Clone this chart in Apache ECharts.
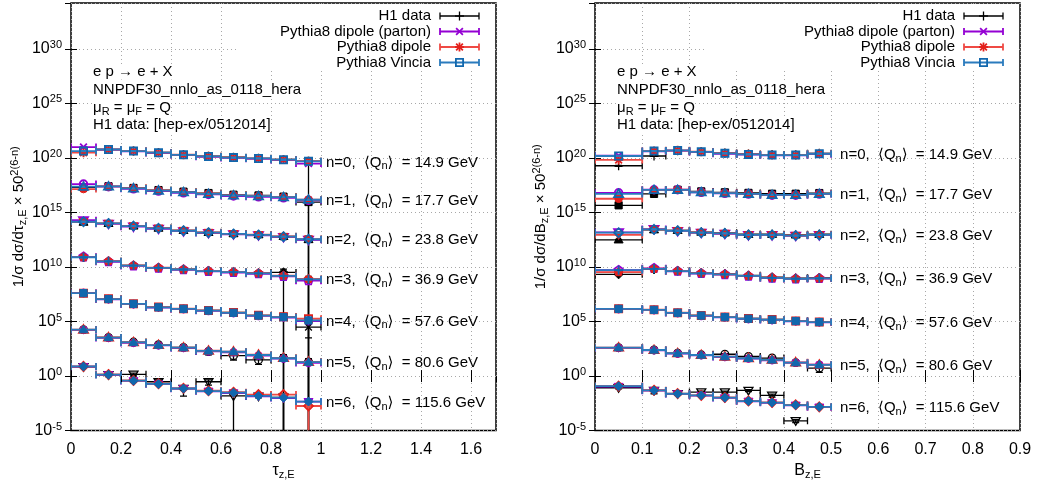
<!DOCTYPE html>
<html><head><meta charset="utf-8">
<script src="https://cdn.jsdelivr.net/npm/echarts@6/dist/echarts.min.js"></script>
<style>html,body{margin:0;padding:0;background:#fff}#c{width:1039px;height:485px}</style>
</head><body><div id="c"></div>
<script>
// ---------------- DATA ----------------
const seriesNames = ['H1 data', 'Pythia8 dipole (parton)', 'Pythia8 dipole', 'Pythia8 Vincia'];
const qMean = [14.9, 17.7, 23.8, 36.9, 57.6, 80.6, 115.6];
const yTickExponents = [-5, 0, 5, 10, 15, 20, 25, 30];
const tauEdges = [0, 0.1, 0.2, 0.3, 0.4, 0.5, 0.6, 0.7, 0.8, 0.9, 1.0];
const bzEdges = [0, 0.1, 0.15, 0.2, 0.25, 0.3, 0.35, 0.4, 0.45, 0.5];

// tau_z,E panel (rows: n = 0..6), values already scaled by 50^(2(6-n))
const tauH1 = [
  [3.5e20, 6.0e20, 4.4e20, 3.2e20, 2.0e20, 1.45e20, 1.15e20, 9.2e19, 7.2e19, 5.0e19],
  [2.0e17, 2.5e17, 1.75e17, 1.12e17, 8.0e16, 6.0e16, 4.2e16, 3.6e16, 2.8e16, 9.0e15],
  [1.3e14, 1.0e14, 5.8e13, 3.7e13, 2.3e13, 1.5e13, 1.15e13, 9.2e12, 6.5e12, 3.3e12],
  [7.5e10, 3.4e10, 1.4e10, 8.6e9, 6.2e9, 4.6e9, 3.6e9, 2.8e9, 3.2e9, 7.0e8],
  [4.0e7, 1.15e7, 4.2e6, 2.1e6, 1.5e6, 1.05e6, 6.8e5, 3.6e5, 2.8e5, 3.1e4],
  [1.8e4, 3.5e3, 1.3e3, 750, 420, 180, 74, 30, 45, 20],
  [7.0, 1.3, 1.45, 0.3, 0.072, 0.3, 0.015, 0.014, 0.011, null]
];
const tauH1Err = [
  [0.1, 0.1, 0.1, 0.1, 0.1, 0.1, 0.1, 0.1, 0.15, 1],
  [0.1, 0.1, 0.1, 0.1, 0.1, 0.1, 0.1, 0.15, 0.2, 1],
  [0.1, 0.1, 0.1, 0.1, 0.1, 0.1, 0.15, 0.2, 0.5, 1],
  [0.1, 0.1, 0.1, 0.1, 0.1, 0.15, 0.15, 0.2, 1, 1],
  [0.1, 0.1, 0.1, 0.1, 0.15, 0.15, 0.2, 0.4, 1, 0.9],
  [0.1, 0.1, 0.1, 0.15, 0.2, 0.5, 0.6, 0.6, 1, 1],
  [0.15, 0.3, 0.3, 0.5, 0.8, 0.5, 1, 0.3, 1, 1]
];
const tauParton = [
  [9.8e20, 5.6e20, 4.0e20, 2.8e20, 1.8e20, 1.25e20, 1.0e20, 8.3e19, 6.3e19, 3.0e19],
  [4.0e17, 2.3e17, 1.45e17, 9.0e16, 6.3e16, 4.5e16, 3.2e16, 2.7e16, 2.2e16, 1.3e16],
  [1.95e14, 9.0e13, 5.0e13, 3.2e13, 1.9e13, 1.3e13, 1.0e13, 8.0e12, 5.5e12, 3.1e12],
  [8.5e10, 3.0e10, 1.25e10, 7.8e9, 5.5e9, 3.9e9, 3.1e9, 2.4e9, 1.35e9, 5.5e8],
  [4.1e7, 1.1e7, 3.9e6, 1.9e6, 1.4e6, 9.5e5, 6.0e5, 3.3e5, 2.3e5, 1.1e5],
  [1.7e4, 3.1e3, 1.1e3, 640, 370, 180, 150, 75, 40, 16],
  [7.3, 1.3, 0.36, 0.18, 0.07, 0.04, 0.028, 0.014, 0.0095, 0.0045]
];
const tauDipole = [
  [3.0e20, 5.9e20, 4.3e20, 3.0e20, 1.95e20, 1.4e20, 1.1e20, 9.0e19, 7.0e19, 5.0e19],
  [1.4e17, 2.4e17, 1.7e17, 1.05e17, 7.3e16, 5.2e16, 3.8e16, 3.2e16, 2.6e16, 1.5e16],
  [1.35e14, 9.8e13, 5.7e13, 3.6e13, 2.2e13, 1.45e13, 1.1e13, 9.0e12, 6.2e12, 3.6e12],
  [8.0e10, 3.4e10, 1.4e10, 8.5e9, 6.0e9, 4.3e9, 3.5e9, 2.7e9, 1.6e9, 8.0e8],
  [4.0e7, 1.2e7, 4.2e6, 2.1e6, 1.5e6, 1.05e6, 6.6e5, 3.7e5, 2.7e5, 1.8e5],
  [1.8e4, 3.5e3, 1.25e3, 700, 410, 210, 175, 90, 45, 20],
  [7.7, 1.4, 0.39, 0.2, 0.075, 0.045, 0.033, 0.02, 0.02, 0.0018]
];
const tauVincia = [
  [4.2e20, 5.9e20, 4.2e20, 3.0e20, 1.9e20, 1.35e20, 1.07e20, 8.9e19, 6.8e19, 4.8e19],
  [2.3e17, 2.4e17, 1.6e17, 1.0e17, 7.1e16, 5.0e16, 3.6e16, 3.1e16, 2.5e16, 1.45e16],
  [1.4e14, 9.8e13, 5.6e13, 3.5e13, 2.1e13, 1.4e13, 1.07e13, 8.7e12, 6.0e12, 3.5e12],
  [7.8e10, 3.3e10, 1.35e10, 8.3e9, 5.9e9, 4.2e9, 3.4e9, 2.6e9, 1.5e9, 7.4e8],
  [4.0e7, 1.15e7, 4.1e6, 2.0e6, 1.45e6, 1.0e6, 6.3e5, 3.5e5, 2.5e5, 1.26e5],
  [1.8e4, 3.4e3, 1.2e3, 690, 400, 200, 170, 85, 43, 19],
  [7.6, 1.35, 0.38, 0.19, 0.072, 0.042, 0.030, 0.015, 0.0105, 0.0046]
];
// [n, bin, relative error] for model points with visible error bars
const tauModelErrOverrides = { dipole: [[6, 9, 1]], vincia: [[6, 9, 0.3], [6, 8, 0.2]], parton: [] };

// B_z,E panel
const bzH1 = [
  [1.9e19, 1.5e20, 4.6e20, 3.8e20, 2.8e20, 2.3e20, 2.0e20, 1.9e20, 2.6e20],
  [4.5e15, 5.0e16, 1.2e17, 8.5e16, 7.0e16, 6.2e16, 5.2e16, 5.2e16, 6.0e16],
  [3.1e12, 2.6e13, 2.3e13, 1.6e13, 1.35e13, 1.0e13, 1.0e13, 8.8e12, 1.0e13],
  [2.1e9, 6.0e9, 4.5e9, 2.9e9, 2.4e9, 1.7e9, 1.15e9, 9.5e8, 1.05e9],
  [1.4e6, 1.15e6, 6.6e5, 3.7e5, 2.7e5, 1.9e5, 1.55e5, 1.2e5, 9.0e4],
  [400, 250, 125, 88, 100, 62, 45, 17, 5.4],
  [0.085, 0.048, 0.024, 0.034, 0.034, 0.048, 0.017, 7.9e-5, null]
];
const bzH1Err = [
  [0.1, 0.1, 0.1, 0.1, 0.1, 0.1, 0.1, 0.1, 0.1],
  [0.1, 0.1, 0.1, 0.1, 0.1, 0.1, 0.1, 0.1, 0.1],
  [0.1, 0.1, 0.1, 0.1, 0.1, 0.1, 0.1, 0.1, 0.1],
  [0.1, 0.1, 0.1, 0.1, 0.1, 0.1, 0.1, 0.1, 0.1],
  [0.1, 0.1, 0.1, 0.1, 0.1, 0.1, 0.15, 0.15, 0.15],
  [0.1, 0.1, 0.1, 0.1, 0.15, 0.15, 0.2, 0.3, 0.6],
  [0.2, 0.5, 0.3, 0.2, 0.2, 0.2, 0.3, 0.3, 0.3]
];
const bzParton = [
  [1.6e20, 4.0e20, 4.6e20, 3.4e20, 2.4e20, 2.0e20, 1.7e20, 1.7e20, 2.2e20],
  [6.3e16, 1.2e17, 1.2e17, 7.0e16, 5.6e16, 4.8e16, 3.8e16, 3.8e16, 4.8e16],
  [1.5e13, 3.0e13, 2.0e13, 1.35e13, 1.1e13, 8.3e12, 8.3e12, 7.2e12, 8.3e12],
  [5.0e9, 7.5e9, 4.0e9, 2.5e9, 2.0e9, 1.45e9, 9.5e8, 8.0e8, 8.7e8],
  [1.4e6, 1.15e6, 6.0e5, 3.3e5, 2.4e5, 1.7e5, 1.4e5, 1.05e5, 8.5e4],
  [380, 230, 115, 80, 55, 40, 28, 17, 11],
  [0.11, 0.046, 0.023, 0.016, 0.0098, 0.0048, 0.0035, 0.0021, 0.0014]
];
const bzDipole = [
  [6.5e19, 4.3e20, 4.9e20, 3.7e20, 2.7e20, 2.2e20, 1.85e20, 1.85e20, 2.5e20],
  [1.8e16, 1.15e17, 1.2e17, 7.2e16, 5.9e16, 5.1e16, 4.1e16, 4.1e16, 5.1e16],
  [8.7e12, 2.8e13, 2.15e13, 1.45e13, 1.2e13, 8.8e12, 8.8e12, 7.7e12, 8.8e12],
  [3.4e9, 6.9e9, 4.3e9, 2.7e9, 2.15e9, 1.55e9, 1.05e9, 8.5e8, 9.2e8],
  [1.45e6, 1.2e6, 6.4e5, 3.6e5, 2.6e5, 1.85e5, 1.5e5, 1.12e5, 9.0e4],
  [410, 250, 125, 86, 61, 44, 31, 18, 11],
  [0.12, 0.05, 0.025, 0.017, 0.011, 0.0053, 0.0038, 0.0023, 0.0015]
];
const bzVincia = [
  [1.5e20, 4.2e20, 4.8e20, 3.6e20, 2.6e20, 2.1e20, 1.8e20, 1.8e20, 2.4e20],
  [5.0e16, 1.15e17, 1.15e17, 7.1e16, 5.8e16, 5.0e16, 4.0e16, 4.0e16, 5.0e16],
  [1.4e13, 2.8e13, 2.1e13, 1.4e13, 1.2e13, 8.7e12, 8.7e12, 7.6e12, 8.7e12],
  [5.1e9, 6.8e9, 4.2e9, 2.6e9, 2.1e9, 1.5e9, 1.0e9, 8.3e8, 9.1e8],
  [1.45e6, 1.17e6, 6.3e5, 3.5e5, 2.5e5, 1.8e5, 1.45e5, 1.1e5, 8.9e4],
  [400, 245, 123, 85, 60, 43, 30, 17, 10.7],
  [0.117, 0.048, 0.024, 0.017, 0.0105, 0.0051, 0.0037, 0.0022, 0.0015]
];

// ---------------- LAYOUT / STYLE ----------------
const FONT = '"Liberation Sans", Arial, Helvetica, "DejaVu Sans", sans-serif';
const Y_MIN = -5, Y_MAX = 34.2;      // log10 range of the y axes
const MODEL_ERR = 0.05;
const STY = [
  { color: '#000000', mcolor: '#000000', lw: 1.3, start: 1 },
  { color: '#9400d3', mcolor: '#9400d3', lw: 1.8, start: 2 },
  { color: '#ef4a44', mcolor: '#e3201b', lw: 1.8, start: 3 },
  { color: '#2a7bbd', mcolor: '#1167ad', lw: 1.8, start: 4 }
];
const PT = ['plus', 'cross', 'star', 'sq', 'sqF', 'circ', 'circF', 'tri', 'triF', 'itri', 'itriF', 'dia', 'diaF', 'pent', 'pentF'];
const ptType = (start, n) => PT[(start - 1 + 4 * n) % 15];
const MS = 9;

function markerEls(type, x, y, color, s, lw) {
  const h = s / 2, out = [];
  const line = (x1, y1, x2, y2) => out.push({ type: 'line', shape: { x1, y1, x2, y2 }, style: { stroke: color, lineWidth: lw, fill: 'none' } });
  const filled = type.endsWith('F');
  const base = filled ? type.slice(0, -1) : type;
  const sty = filled ? { fill: color, stroke: color, lineWidth: 1 } : { fill: 'none', stroke: color, lineWidth: lw };
  const poly = pts => out.push({ type: 'polygon', shape: { points: pts }, style: sty });
  const k = 0.75;
  switch (base) {
    case 'plus': line(x - h, y, x + h, y); line(x, y - h, x, y + h); break;
    case 'cross': line(x - h * k, y - h * k, x + h * k, y + h * k); line(x - h * k, y + h * k, x + h * k, y - h * k); break;
    case 'star': line(x - h, y, x + h, y); line(x, y - h, x, y + h);
      line(x - h * k, y - h * k, x + h * k, y + h * k); line(x - h * k, y + h * k, x + h * k, y - h * k); break;
    case 'sq': out.push({ type: 'rect', shape: { x: x - h * 0.8, y: y - h * 0.8, width: h * 1.6, height: h * 1.6 }, style: sty }); break;
    case 'circ': out.push({ type: 'circle', shape: { cx: x, cy: y, r: h * 0.85 }, style: sty }); break;
    case 'tri': poly([[x, y - h], [x + h, y + h * 0.7], [x - h, y + h * 0.7]]); break;
    case 'itri': poly([[x, y + h], [x + h, y - h * 0.7], [x - h, y - h * 0.7]]); break;
    case 'dia': poly([[x, y - h], [x + h, y], [x, y + h], [x - h, y]]); break;
    case 'pent': {
      const pts = [];
      for (let i = 0; i < 5; i++) { const a = -Math.PI / 2 + i * 2 * Math.PI / 5; pts.push([x + h * Math.cos(a), y + h * Math.sin(a)]); }
      poly(pts); break;
    }
  }
  return out;
}

function buildItems(edges, vals, errs, overrides) {
  const out = [];
  vals.forEach((row, n) => row.forEach((v, i) => {
    if (v == null) return;
    let e = errs ? errs[n][i] : MODEL_ERR;
    (overrides || []).forEach(o => { if (o[0] === n && o[1] === i) e = o[2]; });
    const ly = Math.log10(v);
    const lo = e >= 1 ? Y_MIN - 1 : Math.log10(v * (1 - e));
    const hi = Math.log10(v * (1 + e));
    out.push([edges[i], edges[i + 1], (edges[i] + edges[i + 1]) / 2, ly, lo, hi, n]);
  }));
  return out;
}

function makeRender(st) {
  return function (params, api) {
    const xlo = api.value(0), xhi = api.value(1), xc = api.value(2), ly = api.value(3), lo = api.value(4), hi = api.value(5), n = api.value(6);
    const cs = params.coordSys;
    const ybot = cs.y + cs.height;
    const pL = api.coord([xlo, ly]), pR = api.coord([xhi, ly]), pC = api.coord([xc, ly]);
    let yLo = api.coord([xc, lo])[1];
    const yHi = api.coord([xc, hi])[1];
    const clamped = yLo > ybot; if (clamped) yLo = ybot;
    const c = st.color, lw = st.lw, cap = 3.5;
    const ch = [];
    const L = (x1, y1, x2, y2) => ch.push({ type: 'line', shape: { x1, y1, x2, y2 }, style: { stroke: c, lineWidth: lw, fill: 'none' } });
    L(pL[0], pC[1], pR[0], pC[1]);
    L(pL[0], pC[1] - cap, pL[0], pC[1] + cap);
    L(pR[0], pC[1] - cap, pR[0], pC[1] + cap);
    L(pC[0], yLo, pC[0], yHi);
    if (!clamped) L(pC[0] - cap, yLo, pC[0] + cap, yLo);
    L(pC[0] - cap, yHi, pC[0] + cap, yHi);
    markerEls(ptType(st.start, n), pC[0], pC[1], st.mcolor, MS, st.lw).forEach(e => ch.push(e));
    return { type: 'group', children: ch };
  };
}

const SUB = { fontSize: 11, padding: [8, 0, 0, 0], fontFamily: FONT, color: '#000' };
const SUP = { fontSize: 11, padding: [0, 0, 8, 0], fontFamily: FONT, color: '#000' };

function labelRender(params, api) {
  const p = api.coord([api.value(0), api.value(1)]);
  const n = api.value(2);
  return {
    type: 'text',
    style: {
      x: p[0], y: p[1] + 1, text: 'n=' + n + ',  \u27E8Q{s|n}\u27E9  = ' + qMean[n] + ' GeV',
      rich: { s: { fontSize: 11, padding: [8, 0, 0, 0], fontFamily: FONT, fill: '#000' } },
      fill: '#000', fontSize: 15, fontFamily: FONT, align: 'left', verticalAlign: 'middle'
    }
  };
}

const panels = [
  { edges: tauEdges, sets: [tauH1, tauParton, tauDipole, tauVincia], h1Err: tauH1Err,
    ov: [null, tauModelErrOverrides.parton, tauModelErrOverrides.dipole, tauModelErrOverrides.vincia],
    xmax: 1.7, xint: 0.2, labelX: 1.02, xname: '\u03C4{s|z,E}', yname: '1/\u03C3 d\u03C3/d\u03C4{s|z,E} \u00D7 50{p|2(6-n)}',
    left: 71, width: 425, ynameGap: 40 },
  { edges: bzEdges, sets: [bzH1, bzParton, bzDipole, bzVincia], h1Err: bzH1Err,
    ov: [null, [], [], []],
    xmax: 0.9, xint: 0.1, labelX: 0.519, xname: 'B{s|z,E}', yname: '1/\u03C3 d\u03C3/dB{s|z,E} \u00D7 50{p|2(6-n)}',
    left: 595, width: 425, ynameGap: 45 }
];
const TOP = 3, PLOT_H = 434;

const grids = [], xAxes = [], yAxes = [], series = [], graphics = [];
const splitStyle = { show: true, lineStyle: { color: '#a8a8a8', width: 1, type: [1, 3] } };
const tickStyle = { inside: true, length: 6, lineStyle: { color: '#000', width: 1 } };

panels.forEach((P, pi) => {
  grids.push({ left: P.left, top: TOP, width: P.width, height: PLOT_H, show: true, borderColor: '#000', borderWidth: 1.5, backgroundColor: 'transparent' });
  xAxes.push({
    type: 'value', gridIndex: pi, min: 0, max: P.xmax, interval: P.xint, position: 'bottom',
    axisLine: { show: false }, axisTick: tickStyle, splitLine: splitStyle,
    axisLabel: { color: '#000', fontSize: 16, fontFamily: FONT, margin: 11, showMaxLabel: P.xmax === 0.9,
      formatter: v => { const r = Math.round(v / P.xint); return Math.abs(v - r * P.xint) < 1e-6 ? String(+(r * P.xint).toFixed(1)) : ''; } },
    name: P.xname, nameLocation: 'middle', nameGap: 27,
    nameTextStyle: { color: '#000', fontSize: 16, fontFamily: FONT, rich: { s: SUB } }
  });
  xAxes.push({
    type: 'value', gridIndex: pi, min: 0, max: P.xmax, interval: P.xint, position: 'top', z: 5,
    axisLine: { show: false }, axisTick: tickStyle, splitLine: { show: false }, axisLabel: { show: false }
  });
  yAxes.push({
    type: 'value', gridIndex: pi, min: Y_MIN, max: Y_MAX, interval: 5, position: 'left',
    axisLine: { show: false }, axisTick: tickStyle, splitLine: splitStyle,
    axisLabel: { color: '#000', fontSize: 16, fontFamily: FONT, margin: 9, showMaxLabel: false,
      formatter: v => { const k = Math.round(v); return (Math.abs(v - k) < 1e-6 && yTickExponents.includes(k)) ? '10{p|' + k + '}' : ''; },
      rich: { p: SUP } },
    name: P.yname, nameLocation: 'middle', nameRotate: 90, nameGap: P.ynameGap,
    nameTextStyle: { color: '#000', fontSize: 15, fontFamily: FONT, rich: { s: SUB, p: SUP } }
  });
  yAxes.push({
    type: 'value', gridIndex: pi, min: Y_MIN, max: Y_MAX, interval: 5, position: 'right', z: 5,
    axisLine: { show: false }, axisTick: tickStyle, splitLine: { show: false }, axisLabel: { show: false }
  });
  P.sets.forEach((vals, si) => {
    series.push({
      type: 'custom', name: seriesNames[si], xAxisIndex: pi * 2, yAxisIndex: pi * 2, clip: true, z: 2 + si,
      encode: { x: [0, 1, 2], y: [3, 4, 5] },
      data: buildItems(P.edges, vals, si === 0 ? P.h1Err : null, P.ov[si]),
      renderItem: makeRender(STY[si])
    });
  });
  const vin = P.sets[3];
  series.push({
    type: 'custom', xAxisIndex: pi * 2, yAxisIndex: pi * 2, clip: false, z: 8,
    encode: { x: 0, y: 1 },
    data: vin.map((row, n) => [P.labelX, Math.log10(row[row.length - 1]), n]),
    renderItem: labelRender
  });

  // key box and legend
  const right = P.left + P.width;
  const boxLeft = pi === 0 ? 237 : 705;
  graphics.push({ type: 'rect', z: 1, silent: true, shape: { x: boxLeft, y: TOP + 1, width: right - 1 - boxLeft, height: 66 }, style: { fill: '#fff' } });
  const textRight = right - 65, l0 = right - 56, l1 = right - 17;
  [16, 31.5, 47, 62.5].forEach((yy, si) => {
    const st = STY[si];
    graphics.push({ type: 'text', z: 6, silent: true, style: { x: textRight, y: yy, text: seriesNames[si], fill: '#000', fontSize: 15, fontFamily: FONT, align: 'right', verticalAlign: 'middle' } });
    const ls = { stroke: st.color, lineWidth: st.lw, fill: 'none' };
    graphics.push({ type: 'line', z: 6, silent: true, shape: { x1: l0, y1: yy, x2: l1, y2: yy }, style: ls });
    graphics.push({ type: 'line', z: 6, silent: true, shape: { x1: l0, y1: yy - 3.5, x2: l0, y2: yy + 3.5 }, style: ls });
    graphics.push({ type: 'line', z: 6, silent: true, shape: { x1: l1, y1: yy - 3.5, x2: l1, y2: yy + 3.5 }, style: ls });
    markerEls(ptType(st.start, 0), (l0 + l1) / 2, yy, st.mcolor, MS, st.lw).forEach(e => { e.z = 6; e.silent = true; graphics.push(e); });
  });
  // annotations
  const ann = ['e p \u2192 e + X', 'NNPDF30_nnlo_as_0118_hera', '\u03BC{s|R} = \u03BC{s|F} = Q', 'H1 data: [hep-ex/0512014]'];
  [72, 90, 107.5, 125].forEach((yy, i) => {
    graphics.push({ type: 'text', z: 6, silent: true, style: {
      x: P.left + 22, y: yy, text: ann[i], fill: '#000', fontSize: 15, fontFamily: FONT, align: 'left', verticalAlign: 'middle',
      backgroundColor: '#fff', rich: { s: { fontSize: 11, padding: [8, 0, 0, 0], fontFamily: FONT, fill: '#000' } } } });
  });
});

const chart = echarts.init(document.getElementById('c'), null, { renderer: 'canvas' });
chart.setOption({
  animation: false,
  backgroundColor: '#fff',
  grid: grids, xAxis: xAxes, yAxis: yAxes, series: series, graphic: graphics
});
</script></body></html>
